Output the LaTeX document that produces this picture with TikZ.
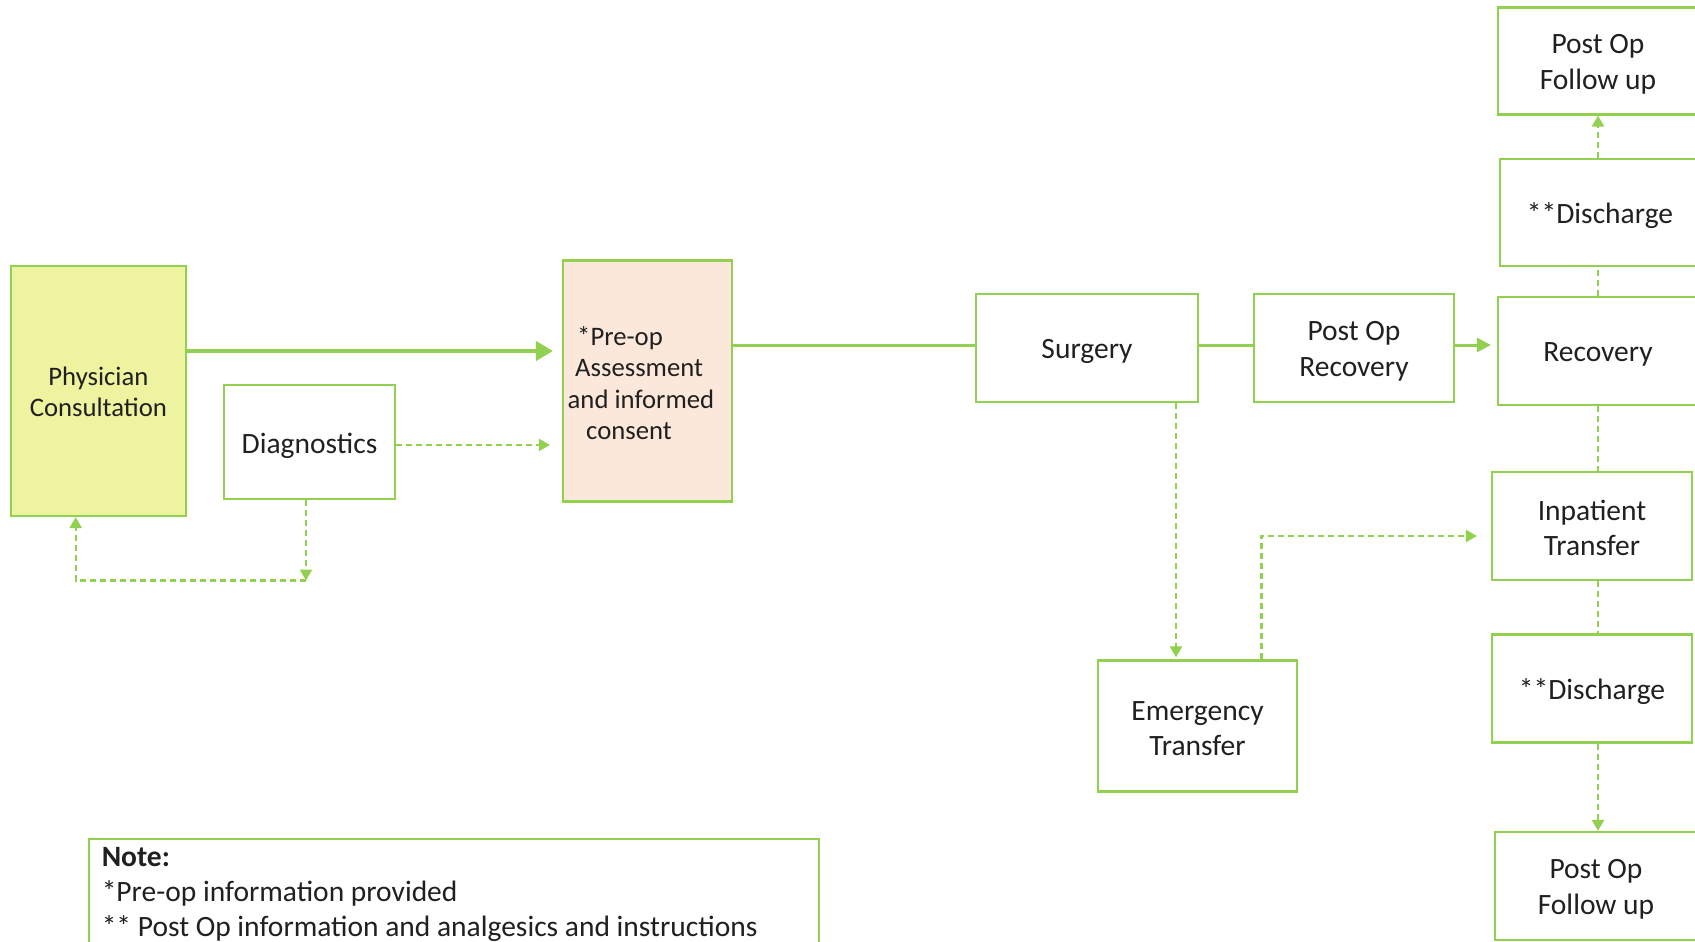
\documentclass[tikz,border=0pt]{standalone}
\usepackage{fontspec}
\setmainfont{Carlito}
\usetikzlibrary{arrows.meta}
\definecolor{gline}{RGB}{146,208,80}
\definecolor{physfill}{RGB}{238,243,160}
\definecolor{prefill}{RGB}{252,232,218}
\definecolor{txt}{RGB}{32,32,32}
\begin{document}
\begin{tikzpicture}[x=1pt,y=-1pt,
  box/.style={draw=gline, line width=2.2pt, inner sep=0pt},
  boxtext/.style={inner sep=0pt, align=center, text=txt, font=\fontsize{29.5}{35.5}\selectfont, yshift=-3.5pt},
  smalltext/.style={inner sep=0pt, align=center, text=txt, font=\fontsize{26.7}{31.4}\selectfont},
  lbl/.style={inner sep=0pt, text=txt, font=\fontsize{29.5}{35.5}\selectfont},
  mainarrow/.style={draw=gline, line width=4.3pt, -{Triangle[length=17pt,width=19pt]}},
  solidline/.style={draw=gline, line width=3pt},
  solidarrow/.style={draw=gline, line width=3pt, -{Triangle[length=14pt,width=14pt]}},
  dashline/.style={draw=gline, line width=2.2pt, dash pattern=on 6pt off 4pt},
  dasharrow/.style={dashline, -{Triangle[length=11pt,width=12pt]}}
]
\useasboundingbox (0,0) rectangle (1695,942);
\clip (0,0) rectangle (1695,942);

% helper coordinates
\coordinate (r1) at (0,351);
\coordinate (r2) at (0,345);
\coordinate (r3) at (0,445);
\coordinate (col) at (1598,0);
\coordinate (e1) at (1176,0);
\coordinate (e2) at (1261.5,536);
\coordinate (c1) at (306,580.5);
\coordinate (c2) at (75.7,580.5);

% boxes
\node[box, fill=physfill, minimum width=175pt, minimum height=250pt] (phys) at (98.4,391) {};
\node[box, minimum width=171pt, minimum height=114pt] (diag) at (309.5,442) {};
\node[box, fill=prefill, minimum width=169pt, minimum height=241pt] (preop) at (647.5,381) {};
\node[box, minimum width=222pt, minimum height=108pt] (surg) at (1087,348) {};
\node[box, minimum width=200pt, minimum height=108pt] (por) at (1354,348) {};
\node[box, minimum width=200pt, minimum height=108pt] (recov) at (1598,351) {};
\node[box, minimum width=200pt, minimum height=107pt] (dis1) at (1600,212.5) {};
\node[box, minimum width=200pt, minimum height=107pt] (pofu1) at (1598,61) {};
\node[box, minimum width=200pt, minimum height=108pt] (inp) at (1592,526) {};
\node[box, minimum width=200pt, minimum height=108pt] (dis2) at (1592,688.5) {};
\node[box, minimum width=202pt, minimum height=108pt] (pofu2) at (1596,886) {};
\node[box, minimum width=199pt, minimum height=131pt] (emerg) at (1197.5,726) {};

% texts
\node[smalltext, yshift=-1pt] (physT) at (phys.center) {Physician\\Consultation};
\node[boxtext] (diagT) at (diag.center) {Diagnostics};
\node[smalltext, anchor=west, align=left] (preopT) at (567.5,383)
  {\hspace*{9.5pt}*Pre-op\\\hspace*{7.5pt}Assessment\\and informed\\\hspace*{18.5pt}consent};
\node[boxtext] (surgT) at (surg.center) {Surgery};
\node[boxtext] (porT) at (por.center) {Post Op\\Recovery};
\node[boxtext] (recovT) at (recov.center) {Recovery};
\node[boxtext] (dis1T) at (dis1.center) {**Discharge};
\node[boxtext] (pofu1T) at (pofu1.center) {Post Op\\Follow up};
\node[boxtext, yshift=1.5pt] (inpT) at (inp.center) {Inpatient\\Transfer};
\node[boxtext] (dis2T) at (dis2.center) {**Discharge};
\node[boxtext] (pofu2T) at (pofu2.center) {Post Op\\Follow up};
\node[boxtext, yshift=1pt] (emergT) at (emerg.center) {Emergency\\Transfer};

% note box
\node[draw=gline, line width=2pt, minimum width=730pt, minimum height=140pt, anchor=north west, inner sep=0pt] (note) at (87.6,838) {};
\node[lbl, anchor=base west] (n1) at (101.6,866) {\textbf{Note:}};
\node[lbl, anchor=base west] (n2) at (101.6,901) {*Pre-op information provided};
\node[lbl, anchor=base west] (n3) at (101.6,936) {** Post Op information and analgesics and instructions};

% connectors
\draw[mainarrow, shorten >=9pt] (phys.east |- r1) -- (preop.west |- r1);
\draw[dasharrow, shorten >=12pt] (diag.east |- r3) -- (preop.west |- r3);
\draw[dasharrow] (diag.south -| c1) -- (c1);
\draw[dasharrow] (c1) -- (c2) -- (phys.south -| c2);

\draw[solidline] (preop.east |- r2) -- (surg.west |- r2);
\draw[solidline] (surg.east |- r2) -- (por.west |- r2);
\draw[solidarrow, shorten >=6pt] (por.east |- r2) -- (recov.west |- r2);

\draw[dashline] (recov.north -| col) -- (dis1.south -| col);
\draw[dasharrow] (dis1.north -| col) -- (pofu1.south -| col);
\draw[dashline] (recov.south -| col) -- (inp.north -| col);
\draw[dashline] (inp.south -| col) -- (dis2.north -| col);
\draw[dasharrow] (dis2.south -| col) -- (pofu2.north -| col);

\draw[dasharrow, shorten >=2pt] (surg.south -| e1) -- (emerg.north -| e1);
\draw[dasharrow, shorten >=14pt] (emerg.north -| e2) -- (e2) -- (inp.west |- e2);
\end{tikzpicture}
\end{document}
